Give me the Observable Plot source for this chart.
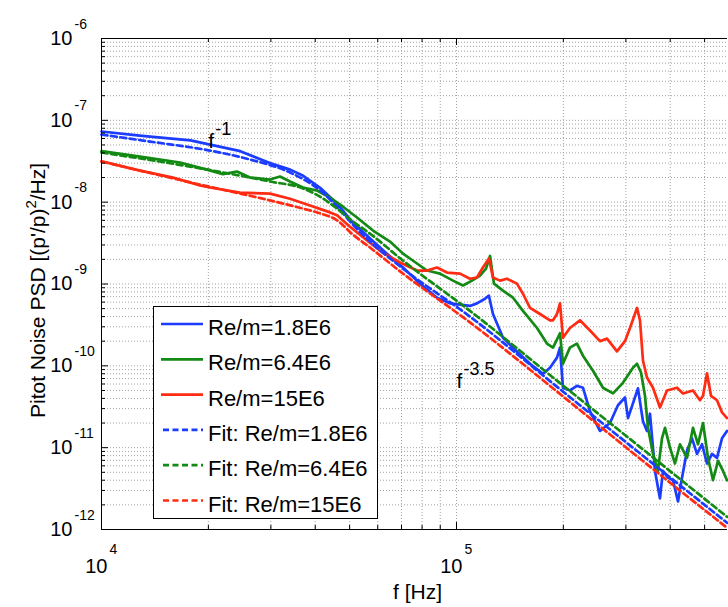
<!DOCTYPE html>
<html>
<head>
<meta charset="utf-8">
<script src="https://cdn.jsdelivr.net/npm/d3@7"></script>
<script src="https://cdn.jsdelivr.net/npm/@observablehq/plot@0.6"></script>
<style>
  body { margin: 0; background: #fff; }
  svg { display: block; }
</style>
</head>
<body>
<div id="chart"></div>
<script>
// ---------- data ----------
const seriesNames = ["Re/m=1.8E6", "Re/m=6.4E6", "Re/m=15E6"];
const fitNames = ["Fit: Re/m=1.8E6", "Fit: Re/m=6.4E6", "Fit: Re/m=15E6"];
const seriesColors = ["#1c3cff", "#138a13", "#ff2b12"];

const blueF = [1.0e4, 1.28e4, 1.78e4, 2.46e4, 2.98e4, 3.40e4, 3.70e4, 4.13e4, 4.61e4, 5.11e4, 5.71e4, 6.37e4, 7.07e4, 7.89e4, 8.81e4, 9.59e4, 1.091e5, 1.142e5, 1.203e5, 1.234e5, 1.267e5, 1.352e5, 1.48e5, 1.611e5, 1.753e5, 1.834e5, 1.919e5, 1.957e5, 1.995e5, 2.087e5, 2.184e5, 2.271e5, 2.377e5, 2.536e5, 2.706e5, 2.85e5, 2.983e5, 3.042e5, 3.245e5, 3.352e5, 3.44e5, 3.508e5, 3.624e5, 3.743e5, 3.816e5, 3.942e5, 4.073e5, 4.207e5, 4.318e5, 4.46e5, 4.607e5, 4.759e5, 4.916e5, 5.078e5, 5.245e5, 5.418e5, 5.597e5, 5.781e5];
const blueV = [7.3e-8, 6.5e-8, 5.7e-8, 4.2e-8, 3.0e-8, 2.5e-8, 2.1e-8, 1.5e-8, 9.6e-9, 5.6e-9, 3.6e-9, 2.35e-9, 1.59e-9, 1.01e-9, 6.8e-10, 5.8e-10, 5.4e-10, 5.8e-10, 6.6e-10, 7.2e-10, 4.3e-10, 2.2e-10, 1.5e-10, 1.06e-10, 8.0e-11, 9.5e-11, 1.26e-10, 1.67e-10, 5.4e-11, 5.0e-11, 5.7e-11, 5.4e-11, 2.8e-11, 1.6e-11, 2.0e-11, 3.3e-11, 4.1e-11, 2.3e-11, 5.3e-11, 2.1e-11, 1.6e-11, 2.6e-11, 5.2e-12, 2.4e-12, 5.2e-12, 4.3e-12, 4.0e-12, 2.2e-12, 4.3e-12, 9.2e-12, 1.3e-11, 8.4e-12, 1.1e-11, 6.4e-12, 8.4e-12, 7.5e-12, 1.3e-11, 1.6e-11];

const greenF = [1e4, 1.284e4, 1.664e4, 1.982e4, 2.199e4, 2.408e4, 2.62e4, 2.983e4, 3.183e4, 3.396e4, 3.695e4, 4.046e4, 4.403e4, 4.789e4, 5.245e4, 5.818e4, 6.497e4, 7.069e4, 7.74e4, 8.259e4, 8.985e4, 9.774e4, 1.043e5, 1.106e5, 1.165e5, 1.211e5, 1.243e5, 1.275e5, 1.352e5, 1.443e5, 1.539e5, 1.686e5, 1.798e5, 1.87e5, 1.957e5, 1.995e5, 2.087e5, 2.184e5, 2.271e5, 2.424e5, 2.586e5, 2.76e5, 2.944e5, 3.142e5, 3.225e5, 3.31e5, 3.396e5, 3.463e5, 3.577e5, 3.694e5, 3.792e5, 3.867e5, 3.994e5, 4.125e5, 4.262e5, 4.46e5, 4.637e5, 4.79e5, 4.948e5, 5.112e5, 5.279e5, 5.453e5, 5.633e5, 5.781e5];
const greenV = [4.2e-8, 3.6e-8, 3.05e-8, 2.5e-8, 2.2e-8, 2.37e-8, 2.0e-8, 1.89e-8, 2.06e-8, 1.79e-8, 1.51e-8, 1.39e-8, 1.14e-8, 8.8e-9, 6.5e-9, 4.5e-9, 3.3e-9, 2.35e-9, 1.78e-9, 1.46e-9, 1.34e-9, 1.10e-9, 9.6e-10, 1.10e-9, 1.27e-9, 1.54e-9, 2.2e-9, 1.01e-9, 8.3e-10, 6.8e-10, 4.7e-10, 2.9e-10, 1.87e-10, 1.67e-10, 2.5e-10, 1.06e-10, 1.67e-10, 1.87e-10, 1.33e-10, 8.7e-11, 5.4e-11, 4.6e-11, 6.2e-11, 9.5e-11, 1.06e-10, 8.3e-11, 4.3e-11, 1.75e-11, 8.4e-12, 5.2e-12, 1.3e-11, 1.75e-11, 1.0e-11, 6.4e-12, 1.1e-11, 7.5e-12, 1.75e-11, 1.1e-11, 2.0e-11, 7.5e-12, 4.0e-12, 6.9e-12, 5.2e-12, 4.0e-12];

const redF = [1e4, 1.284e4, 1.59e4, 1.894e4, 2.021e4, 2.455e4, 2.983e4, 3.396e4, 3.867e4, 4.403e4, 4.607e4, 5.012e4, 5.597e4, 6.209e4, 6.932e4, 7.74e4, 8.259e4, 8.812e4, 9.402e4, 1.023e5, 1.091e5, 1.142e5, 1.187e5, 1.234e5, 1.267e5, 1.326e5, 1.388e5, 1.48e5, 1.539e5, 1.611e5, 1.719e5, 1.834e5, 1.87e5, 1.919e5, 1.957e5, 1.995e5, 2.087e5, 2.228e5, 2.377e5, 2.536e5, 2.654e5, 2.832e5, 2.983e5, 3.081e5, 3.225e5, 3.288e5, 3.352e5, 3.44e5, 3.577e5, 3.743e5, 3.917e5, 4.181e5, 4.345e5, 4.637e5, 4.852e5, 4.948e5, 5.078e5, 5.211e5, 5.418e5, 5.597e5, 5.781e5];
const redV = [3.16e-8, 2.43e-8, 2.0e-8, 1.6e-8, 1.51e-8, 1.31e-8, 1.27e-8, 1.1e-8, 9.1e-9, 7.5e-9, 6.9e-9, 5.0e-9, 3.4e-9, 2.4e-9, 1.83e-9, 1.46e-9, 1.46e-9, 1.59e-9, 1.38e-9, 1.34e-9, 1.16e-9, 1.2e-9, 1.59e-9, 2.05e-9, 1.2e-9, 1.1e-9, 1.16e-9, 1.01e-9, 7.6e-10, 5.1e-10, 4.3e-10, 3.6e-10, 3.6e-10, 4.3e-10, 5.8e-10, 2.2e-10, 2.9e-10, 3.6e-10, 2.7e-10, 2.0e-10, 2.15e-10, 1.5e-10, 2.0e-10, 2.9e-10, 5.1e-10, 3.6e-10, 1.16e-10, 7.2e-11, 5.4e-11, 3.1e-11, 5.0e-11, 5.4e-11, 4.6e-11, 5.0e-11, 3.8e-11, 4.3e-11, 8.1e-11, 4.3e-11, 3.8e-11, 2.7e-11, 2.3e-11];

// fits (dashed)
const blueFitF = [1e4, 1.37e4, 2.02e4, 2.62e4, 3.40e4, 4.13e4, 4.61e4, 5.11e4, 5.71e4, 7.07e4, 1.091e5, 2e5, 3e5, 5.781e5];
const blueFitV = [6.7e-8, 5.5e-8, 4.27e-8, 3.32e-8, 2.30e-8, 1.39e-8, 8.8e-9, 5.3e-9, 3.3e-9, 1.54e-9, 4.0e-10, 4.8e-11, 1.17e-11, 1.21e-12];
const greenFitF = [1e4, 1.776e4, 2.983e4, 3.695e4, 4.125e4, 4.607e4, 5.112e4, 5.705e4, 7.069e4, 1.091e5, 2e5, 3e5, 5.781e5];
const greenFitV = [4.04e-8, 2.72e-8, 1.79e-8, 1.47e-8, 1.17e-8, 8.35e-9, 5.8e-9, 4.13e-9, 1.93e-9, 4.7e-10, 5.7e-11, 1.4e-11, 1.43e-12];
const redFitF = [1e4, 1.894e4, 2.983e4, 3.695e4, 4.125e4, 4.607e4, 5.112e4, 5.705e4, 7.069e4, 1.091e5, 2e5, 3e5, 5.781e5];
const redFitV = [3.14e-8, 1.64e-8, 1.05e-8, 8.35e-9, 7.3e-9, 6.0e-9, 4.0e-9, 2.79e-9, 1.34e-9, 3.4e-10, 4.2e-11, 1.01e-11, 1.05e-12];

// axes / ticks
const xDomain = [1e4, 5.8e5];
const yDomain = [1e-12, 1e-6];
const xMajor = [1e4, 1e5];
const xMajorExp = ["4", "5"];
const xMinor = [2e4, 3e4, 4e4, 5e4, 6e4, 7e4, 8e4, 9e4, 2e5, 3e5, 4e5, 5e5];
const yMajor = [1e-12, 1e-11, 1e-10, 1e-9, 1e-8, 1e-7, 1e-6];
const yMajorExp = ["-12", "-11", "-10", "-9", "-8", "-7", "-6"];
const yMinorMult = [2, 3, 4, 5, 6, 7, 8, 9];

// annotations
const annF = [2.0e4, 1.0e5];
const annV = [4.65e-8, 5.3e-11];
const annExp = ["-1", "-3.5"];

const xLabel = "f [Hz]";
const yLabelMain = "Pitot Noise PSD [(p'/p)";
const yLabelSup = "2";
const yLabelEnd = "/Hz]";

// ---------- build ----------
const rows = (F, V) => F.map((f, i) => ({f, psd: V[i]}));
const solids = [rows(blueF, blueV), rows(greenF, greenV), rows(redF, redV)];
const fits = [rows(blueFitF, blueFitV), rows(greenFitF, greenFitV), rows(redFitF, redFitV)];
const yMinor = yMajor.slice(0, -1).flatMap(d => yMinorMult.map(m => m * d));

const FONT = "'Liberation Sans', Arial, Helvetica, sans-serif";
const gridStyle = {stroke: "#a3a3a3", strokeWidth: 1, strokeDasharray: "1,2"};
const W = 728, H = 607, ML = 101, MR = 1, MT = 38, MB = 78;
const innerH = H - MT - MB, innerW = W - ML - MR;

const chart = Plot.plot({
  width: W, height: H,
  marginLeft: ML, marginRight: MR, marginTop: MT, marginBottom: MB,
  style: {fontFamily: FONT, background: "#fff", color: "#000"},
  x: {type: "log", domain: xDomain, axis: null},
  y: {type: "log", domain: yDomain, axis: null},
  marks: [
    Plot.ruleX(xMinor.concat(xMajor), {x: d => d, ...gridStyle}),
    Plot.ruleY(yMinor.concat(yMajor), {y: d => d, ...gridStyle}),
    ...solids.map((data, k) => Plot.line(data, {x: "f", y: "psd", stroke: seriesColors[k], strokeWidth: 2.7})),
    ...fits.map((data, k) => Plot.line(data, {x: "f", y: "psd", stroke: seriesColors[k], strokeWidth: 2.7, strokeDasharray: "6,3.5", curve: "monotone-x"})),
    // inward ticks
    Plot.ruleX(xMajor, {x: d => d, stroke: "#000", insetTop: innerH - 7}),
    Plot.ruleX(xMinor, {x: d => d, stroke: "#000", insetTop: innerH - 4}),
    Plot.ruleX(xMajor, {x: d => d, stroke: "#000", insetBottom: innerH - 7}),
    Plot.ruleX(xMinor, {x: d => d, stroke: "#000", insetBottom: innerH - 4}),
    Plot.ruleY(yMajor, {y: d => d, stroke: "#000", insetRight: innerW - 7}),
    Plot.ruleY(yMinor, {y: d => d, stroke: "#000", insetRight: innerW - 4}),
    // axis lines (box)
    Plot.ruleY([yDomain[0], yDomain[1]], {y: d => d, stroke: "#000"}),
    Plot.ruleX([xDomain[0]], {x: d => d, stroke: "#000"}),
    // tick labels
    Plot.text(yMajor, {y: d => d, frameAnchor: "left", text: () => "10", textAnchor: "end", dx: -29, lineAnchor: "middle", fontSize: 20, fill: "#000"}),
    Plot.text(yMajor, {y: d => d, frameAnchor: "left", text: (d, i) => yMajorExp[i], textAnchor: "start", dx: -27, dy: -10, lineAnchor: "bottom", fontSize: 14, fill: "#000"}),
    Plot.text(xMajor, {x: d => d, frameAnchor: "bottom", text: () => "10", textAnchor: "end", dx: 6, dy: 43, lineAnchor: "bottom", fontSize: 20, fill: "#000"}),
    Plot.text(xMajor, {x: d => d, frameAnchor: "bottom", text: (d, i) => xMajorExp[i], textAnchor: "start", dx: 8, dy: 24, lineAnchor: "bottom", fontSize: 14, fill: "#000"}),
    // annotations
    Plot.text(annF, {x: d => d, y: (d, i) => annV[i], text: () => "f", textAnchor: "start", lineAnchor: "bottom", fontSize: 21, fill: "#000"}),
    Plot.text(annF, {x: d => d, y: (d, i) => annV[i], text: (d, i) => annExp[i], textAnchor: "start", dx: 7, dy: -13, lineAnchor: "bottom", fontSize: 18, fill: "#000"}),
    // x label
    Plot.text([xLabel], {frameAnchor: "bottom", text: d => d, dx: 3, dy: 69, lineAnchor: "bottom", fontSize: 21, fill: "#000"})
  ]
});

document.getElementById("chart").appendChild(chart);
const svg = d3.select(chart);

// y label with a real superscript
const yl = svg.append("text")
  .attr("transform", "translate(45,418) rotate(-90)")
  .attr("text-anchor", "start")
  .attr("font-family", FONT)
  .attr("font-size", 21)
  .attr("fill", "#000");
yl.append("tspan").text(yLabelMain);
yl.append("tspan").attr("dy", -9).attr("font-size", 15).text(yLabelSup);
yl.append("tspan").attr("dy", 9).text(yLabelEnd);

// legend
const lg = svg.append("g").attr("font-family", FONT).attr("text-anchor", "start");
lg.append("rect").attr("x", 153.5).attr("y", 306.5).attr("width", 224).attr("height", 212)
  .attr("fill", "#fff").attr("stroke", "#000").attr("stroke-width", 1);
const legendLabels = seriesNames.concat(fitNames);
legendLabels.forEach((lab, i) => {
  const y = 324 + i * 35.3;
  const k = i % 3;
  lg.append("line").attr("x1", i < 3 ? 161 : 163).attr("x2", 203).attr("y1", y).attr("y2", y)
    .attr("stroke", seriesColors[k]).attr("stroke-width", 2.7)
    .attr("stroke-dasharray", i < 3 ? null : "6,3.5");
  lg.append("text").attr("x", 208).attr("y", y + 11).attr("text-anchor", "start")
    .attr("font-size", 22).attr("fill", "#000").text(lab);
});
</script>
</body>
</html>
